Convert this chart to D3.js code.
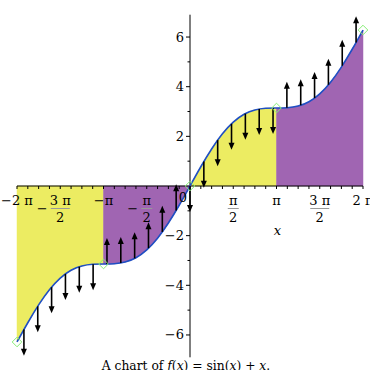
<!DOCTYPE html>
<html><head><meta charset="utf-8">
<script src="https://cdn.jsdelivr.net/npm/d3@7"></script>
<style>
body{margin:0;background:#fff}
svg{display:block}
text{font-family:"DejaVu Serif","Liberation Serif",serif;fill:#000}
</style>
</head><body>
<svg id="c" width="370" height="370"></svg>
<script>
const curveX = [-6.2832,-5.8905,-5.4978,-5.1051,-4.7124,-4.3197,-3.9270,-3.5343,-3.1416,-2.7489,-2.3562,-1.9635,-1.5708,-1.1781,-0.7854,-0.3927,0,
                0.3927,0.7854,1.1781,1.5708,1.9635,2.3562,2.7489,3.1416,3.5343,3.9270,4.3197,4.7124,5.1051,5.4978,5.8905,6.2832];
const curveY = [-6.2832,-5.5078,-4.7907,-4.1812,-3.7124,-3.3958,-3.2199,-3.1516,-3.1416,-3.1316,-3.0633,-2.8874,-2.5708,-2.1020,-1.4925,-0.7754,0,
                0.7754,1.4925,2.1020,2.5708,2.8874,3.0633,3.1316,3.1416,3.1516,3.2199,3.3958,3.7124,4.1812,4.7907,5.5078,6.2832];
// concavity regions: [start index, end index] into curve arrays
const regionStart = [0, 8, 16, 24];
const regionEnd   = [8, 16, 24, 32];
const regionType  = ["down", "up", "down", "up"];
// arrows
const arrowX = [-6.0319,-5.5292,-5.0265,-4.5239,-4.0212,-3.5186,-3.0159,-2.5133,-2.0106,-1.5080,-1.0053,-0.5027,0,
                0.5027,1.0053,1.5080,2.0106,2.5133,3.0159,3.5186,4.0212,4.5239,5.0265,5.5292,6.0319];
const arrowY = [-5.7832,-4.8447,-4.0754,-3.5416,-3.2507,-3.1505,-3.1412,-3.1011,-2.9154,-2.5060,-1.8496,-0.9845,0,
                0.9845,1.8496,2.5060,2.9154,3.1011,3.1412,3.1505,3.2507,3.5416,4.0754,4.8447,5.7832];
const arrowDir = [-1,-1,-1,-1,-1,-1, 1,1,1,1,1,1, -1, -1,-1,-1,-1,-1,-1, 1,1,1,1,1,1];
const arrowLen = 1.05;
// inflection points
const inflX = [-6.2832,-3.1416,0,3.1416,6.2832];
const inflY = [-6.2832,-3.1416,0,3.1416,6.2832];
// ticks
const xMinorTicks = d3.range(-16, 17).map(k => k * Math.PI / 8);
const xLabelPos = [-2,-1.5,-1,-0.5,0.5,1,1.5,2].map(v => v * Math.PI);
const xLabelNum = ["2 π","3 π","π","π","π","π","3 π","2 π"];
const xLabelDen = [null,"2",null,"2","2",null,"2",null];
const xLabelNeg = [true,true,true,true,false,false,false,false];
const yTicks = [-6,-5,-4,-3,-2,-1,1,2,3,4,5,6];
const yLabels = [-6,-4,-2,2,4,6];

const colors = {down:"#ecec62", up:"#a065b2"};

const svg = d3.select("#c");
const x = d3.scaleLinear().domain([-2*Math.PI, 2*Math.PI]).range([17, 363]);
const y = d3.scaleLinear().domain([-6.9, 6.9]).range([357.3, 14.7]);

const pts = curveX.map((v,i)=>[v, curveY[i]]);

// fills
const area = d3.area().x(d=>x(d[0])).y0(y(0)).y1(d=>y(d[1])).curve(d3.curveNatural);
regionStart.forEach((s,i)=>{
  svg.append("path").attr("d", area(pts.slice(s, regionEnd[i]+1)))
    .attr("fill", colors[regionType[i]]).attr("stroke", colors[regionType[i]]).attr("stroke-width",0.5);
});

// x axis
const xAxisG = svg.append("g");
xAxisG.append("line").attr("x1", x(-2*Math.PI)).attr("x2", x(2*Math.PI)).attr("y1", y(0)).attr("y2", y(0))
  .attr("stroke","#000").attr("stroke-width",1);
xAxisG.selectAll("line.t").data(xMinorTicks).join("line").attr("class","t")
  .attr("x1", d=>x(d)).attr("x2", d=>x(d)).attr("y1", y(0)).attr("y2", y(0)+3)
  .attr("stroke","#000").attr("stroke-width",1);

// y axis
const yAxisG = svg.append("g");
yAxisG.append("line").attr("x1", x(0)).attr("x2", x(0)).attr("y1", y(6.9)).attr("y2", y(-6.9))
  .attr("stroke","#000").attr("stroke-width",1);
yAxisG.selectAll("line.t").data(yTicks).join("line").attr("class","t")
  .attr("x1", x(0)).attr("x2", d => x(0) - (d % 2 === 0 ? 4 : 2.5)).attr("y1", d=>y(d)).attr("y2", d=>y(d))
  .attr("stroke","#000").attr("stroke-width",1);
yAxisG.selectAll("text").data(yLabels).join("text")
  .attr("x", x(0) - 6).attr("y", d=>y(d)+4.5).attr("text-anchor","end").attr("font-size",13)
  .text(d => d < 0 ? "\u2212" + Math.abs(d) : d);

// curve
const line = d3.line().x(d=>x(d[0])).y(d=>y(d[1])).curve(d3.curveNatural);
svg.append("path").attr("d", line(pts)).attr("fill","none").attr("stroke","#1f4fc4").attr("stroke-width",1.6);

// arrows
const ag = svg.append("g");
arrowX.forEach((ax,i)=>{
  const px = x(ax), y0 = y(arrowY[i]), y1 = y(arrowY[i] + arrowDir[i]*arrowLen);
  const s = Math.sign(y1 - y0), hl = 7, hw = 3;
  ag.append("line").attr("x1",px).attr("x2",px).attr("y1",y0).attr("y2",y1 - s*hl*0.6)
    .attr("stroke","#000").attr("stroke-width",1.6);
  ag.append("path").attr("d", `M${px},${y1}L${px-hw},${y1-s*hl}L${px+hw},${y1-s*hl}Z`).attr("fill","#000");
});

// inflection diamonds
svg.selectAll("path.dm").data(inflX).join("path").attr("class","dm")
  .attr("d",(d,i)=>{const cx=x(d), cy=y(inflY[i]), r=4.8; return `M${cx},${cy-r}L${cx+r},${cy}L${cx},${cy+r}L${cx-r},${cy}Z`;})
  .attr("fill","none").attr("stroke","#88ee77").attr("stroke-width",1);

// x labels
const lg = svg.append("g").attr("font-size",13);
xLabelPos.forEach((p,i)=>{
  const cx = x(p);
  if (xLabelDen[i] === null) {
    lg.append("text").attr("x", cx).attr("y", 205).attr("text-anchor","middle")
      .text((xLabelNeg[i] ? "\u2212" : "") + xLabelNum[i]);
  } else {
    const w = xLabelNum[i].length > 1 ? 19 : 11;
    lg.append("text").attr("x", cx).attr("y", 205).attr("text-anchor","middle").text(xLabelNum[i]);
    lg.append("line").attr("x1", cx - w/2).attr("x2", cx + w/2).attr("y1", 208.5).attr("y2", 208.5)
      .attr("stroke","#999").attr("stroke-width",1);
    lg.append("text").attr("x", cx).attr("y", 222).attr("text-anchor","middle").text(xLabelDen[i]);
    if (xLabelNeg[i]) {
      lg.append("text").attr("x", cx - w/2 - 3).attr("y", 213).attr("text-anchor","end").text("\u2212");
    }
  }
});
lg.append("text").attr("x", 183).attr("y", 202).attr("text-anchor","middle").text("0");
lg.append("text").attr("x", 277.5).attr("y", 235).attr("text-anchor","middle").attr("font-style","italic").text("x");

// caption
const cap = svg.append("text").attr("x", 186).attr("y", 369.5).attr("text-anchor","middle").attr("font-size",12.3);
cap.append("tspan").text("A chart of ");
cap.append("tspan").attr("font-style","italic").text("f");
cap.append("tspan").text("(");
cap.append("tspan").attr("font-style","italic").text("x");
cap.append("tspan").text(") = sin(");
cap.append("tspan").attr("font-style","italic").text("x");
cap.append("tspan").text(") + ");
cap.append("tspan").attr("font-style","italic").text("x");
cap.append("tspan").text(".");
</script>
</body></html>
